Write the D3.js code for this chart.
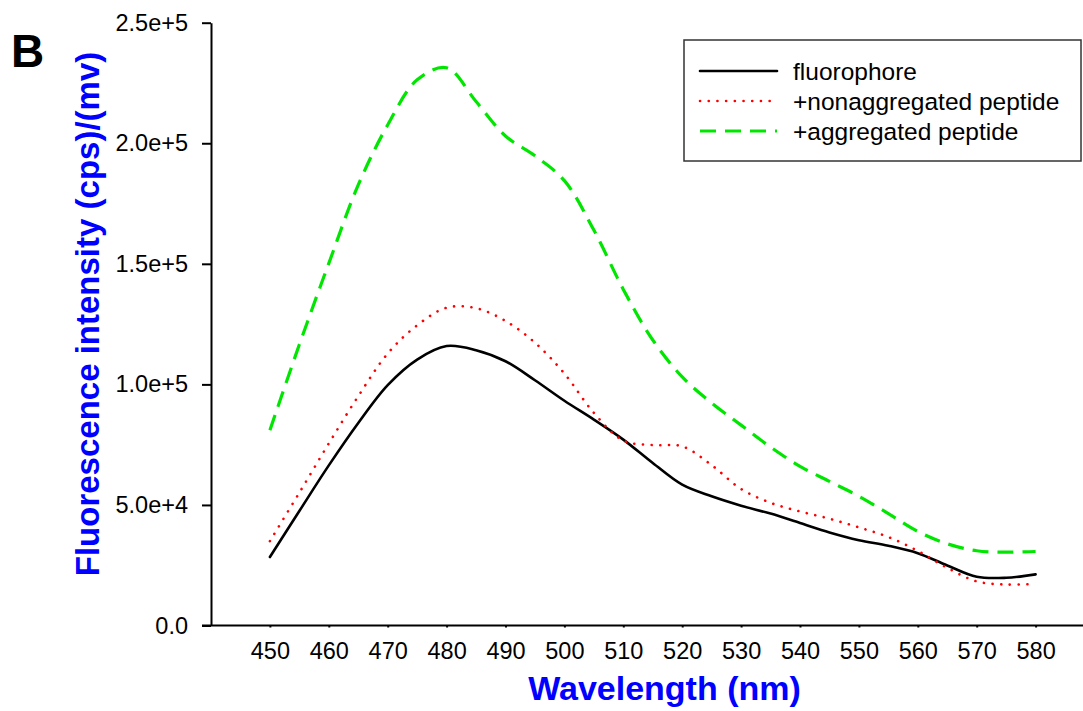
<!DOCTYPE html>
<html>
<head>
<meta charset="utf-8">
<script src="https://cdn.jsdelivr.net/npm/d3@7"></script>
<style>
  body { margin: 0; background: #fff; }
  text { font-family: "Liberation Sans", Arial, sans-serif; }
</style>
</head>
<body>
<div id="chart"></div>
<script>
/*Data (intensity in cps/mv)*/
const wavelengths = [450, 455, 460, 465, 470, 475, 480, 485, 490, 495, 500, 505, 510, 515,
                     520, 525, 530, 535, 540, 545, 550, 555, 560, 565, 570, 575, 580];
const fluorophore = [28400, 47500, 66400, 84000, 99700, 110300, 115900, 114200, 109600, 101700,
                     93200, 85400, 77100, 67400, 58400, 53600, 49700, 46400, 42500, 38600,
                     35400, 33100, 30000, 24900, 20200, 19800, 21200];
const nonaggregated = [35000, 55100, 75500, 95100, 112800, 124500, 131800, 131600, 126300, 117300,
                       104500, 88200, 76700, 74800, 74300, 66500, 56600, 50900, 47300, 44300,
                       40700, 36700, 30900, 23900, 18300, 17000, 17300];
const aggregated = [81000, 116500, 150200, 182700, 207600, 226300, 231300, 217300, 203000, 194800,
                    184500, 164000, 139400, 118400, 103100, 92300, 83100, 74000, 66000, 59800,
                    53600, 46400, 39000, 33900, 31000, 30400, 30700];
const seriesNames = ["fluorophore", "+nonaggregated peptide", "+aggregated peptide"];
const xTickValues = [450, 460, 470, 480, 490, 500, 510, 520, 530, 540, 550, 560, 570, 580];
const yTickValues = [0, 50000, 100000, 150000, 200000, 250000];
const yTickLabels = ["0.0", "5.0e+4", "1.0e+5", "1.5e+5", "2.0e+5", "2.5e+5"];

const width = 1083;
const height = 711;

/*line styles for each series*/
const styles = [
  {color: "#000000", width: 2.6, dash: null, cap: "round"},
  {color: "#ff0000", width: 2.6, dash: "0.1 8.6", cap: "round"},
  {color: "#00e600", width: 3.2, dash: "16 9", cap: "butt"}
];
const seriesValues = [fluorophore, nonaggregated, aggregated];

const svg = d3.select("#chart")
  .append("svg")
  .attr("width", width)
  .attr("height", height);

svg.append("rect").attr("width", width).attr("height", height).attr("fill", "#fff");

const xScale = d3.scaleLinear().domain([440, 590]).range([211, 1094.5]);
const yScale = d3.scaleLinear().domain([0, 250000]).range([625.5, 22.7]);

/*Y axis*/
const yAxis = d3.axisLeft(yScale)
  .tickValues(yTickValues)
  .tickFormat((d, i) => yTickLabels[i])
  .tickSize(9)
  .tickPadding(14)
  .tickSizeOuter(0);

svg.append("g")
  .attr("transform", "translate(" + xScale.range()[0] + ",0)")
  .call(yAxis)
  .call(g => g.selectAll("text").attr("font-size", "23.5px").attr("fill", "#000")
    .style("font-family", "'Liberation Sans', Arial, sans-serif"))
  .call(g => g.selectAll("line, path").attr("stroke", "#000").attr("stroke-width", 2));

/*X axis*/
const xAxis = d3.axisBottom(xScale)
  .tickValues(xTickValues)
  .tickSize(2)
  .tickPadding(15)
  .tickSizeOuter(0);

svg.append("g")
  .attr("transform", "translate(0," + yScale(0) + ")")
  .call(xAxis)
  .call(g => g.select(".domain").remove())
  .call(g => g.selectAll("text").attr("font-size", "23.5px").attr("fill", "#000")
    .style("font-family", "'Liberation Sans', Arial, sans-serif"))
  .call(g => g.selectAll("line").attr("stroke", "#000").attr("stroke-width", 2));

/*x axis line runs left to the end of the y ticks*/
svg.append("line")
  .attr("x1", xScale.range()[0] - 9)
  .attr("x2", xScale.range()[1])
  .attr("y1", yScale(0))
  .attr("y2", yScale(0))
  .attr("stroke", "#000")
  .attr("stroke-width", 2);

/*Curves*/
const line = d3.line()
  .x((d, i) => xScale(wavelengths[i]))
  .y(d => yScale(d))
  .curve(d3.curveCatmullRom.alpha(0.5));

seriesValues.forEach((vals, i) => {
  svg.append("path")
    .datum(vals)
    .attr("d", line)
    .attr("fill", "none")
    .attr("stroke", styles[i].color)
    .attr("stroke-width", styles[i].width)
    .attr("stroke-dasharray", styles[i].dash)
    .attr("stroke-linecap", styles[i].cap)
    .attr("stroke-linejoin", "round");
});

/*Axis titles*/
svg.append("text")
  .attr("x", 664.5)
  .attr("y", 700)
  .attr("text-anchor", "middle")
  .attr("font-size", "34px")
  .attr("font-weight", "bold")
  .attr("fill", "#0000ff")
  .text("Wavelength (nm)");

svg.append("text")
  .attr("transform", "translate(99,314) rotate(-90)")
  .attr("text-anchor", "middle")
  .attr("font-size", "33px")
  .attr("font-weight", "bold")
  .attr("fill", "#0000ff")
  .text("Fluorescence intensity (cps)/(mv)");

/*Panel letter*/
svg.append("text")
  .attr("x", 11)
  .attr("y", 67)
  .attr("font-size", "46px")
  .attr("font-weight", "bold")
  .attr("fill", "#000")
  .text("B");

/*Legend*/
const legend = svg.append("g").attr("id", "legend");
legend.append("rect")
  .attr("x", 684)
  .attr("y", 40)
  .attr("width", 397)
  .attr("height", 121)
  .attr("fill", "#fff")
  .attr("stroke", "#333")
  .attr("stroke-width", 1.5);

seriesNames.forEach((name, i) => {
  const ly = 71 + i * 30;
  legend.append("line")
    .attr("x1", 700)
    .attr("x2", 777)
    .attr("y1", ly)
    .attr("y2", ly)
    .attr("stroke", styles[i].color)
    .attr("stroke-width", styles[i].width)
    .attr("stroke-dasharray", styles[i].dash)
    .attr("stroke-linecap", styles[i].cap);
  legend.append("text")
    .attr("x", 793)
    .attr("y", ly + 8.5)
    .attr("font-size", "24.5px")
    .attr("fill", "#000")
    .text(name);
});
</script>
</body>
</html>
